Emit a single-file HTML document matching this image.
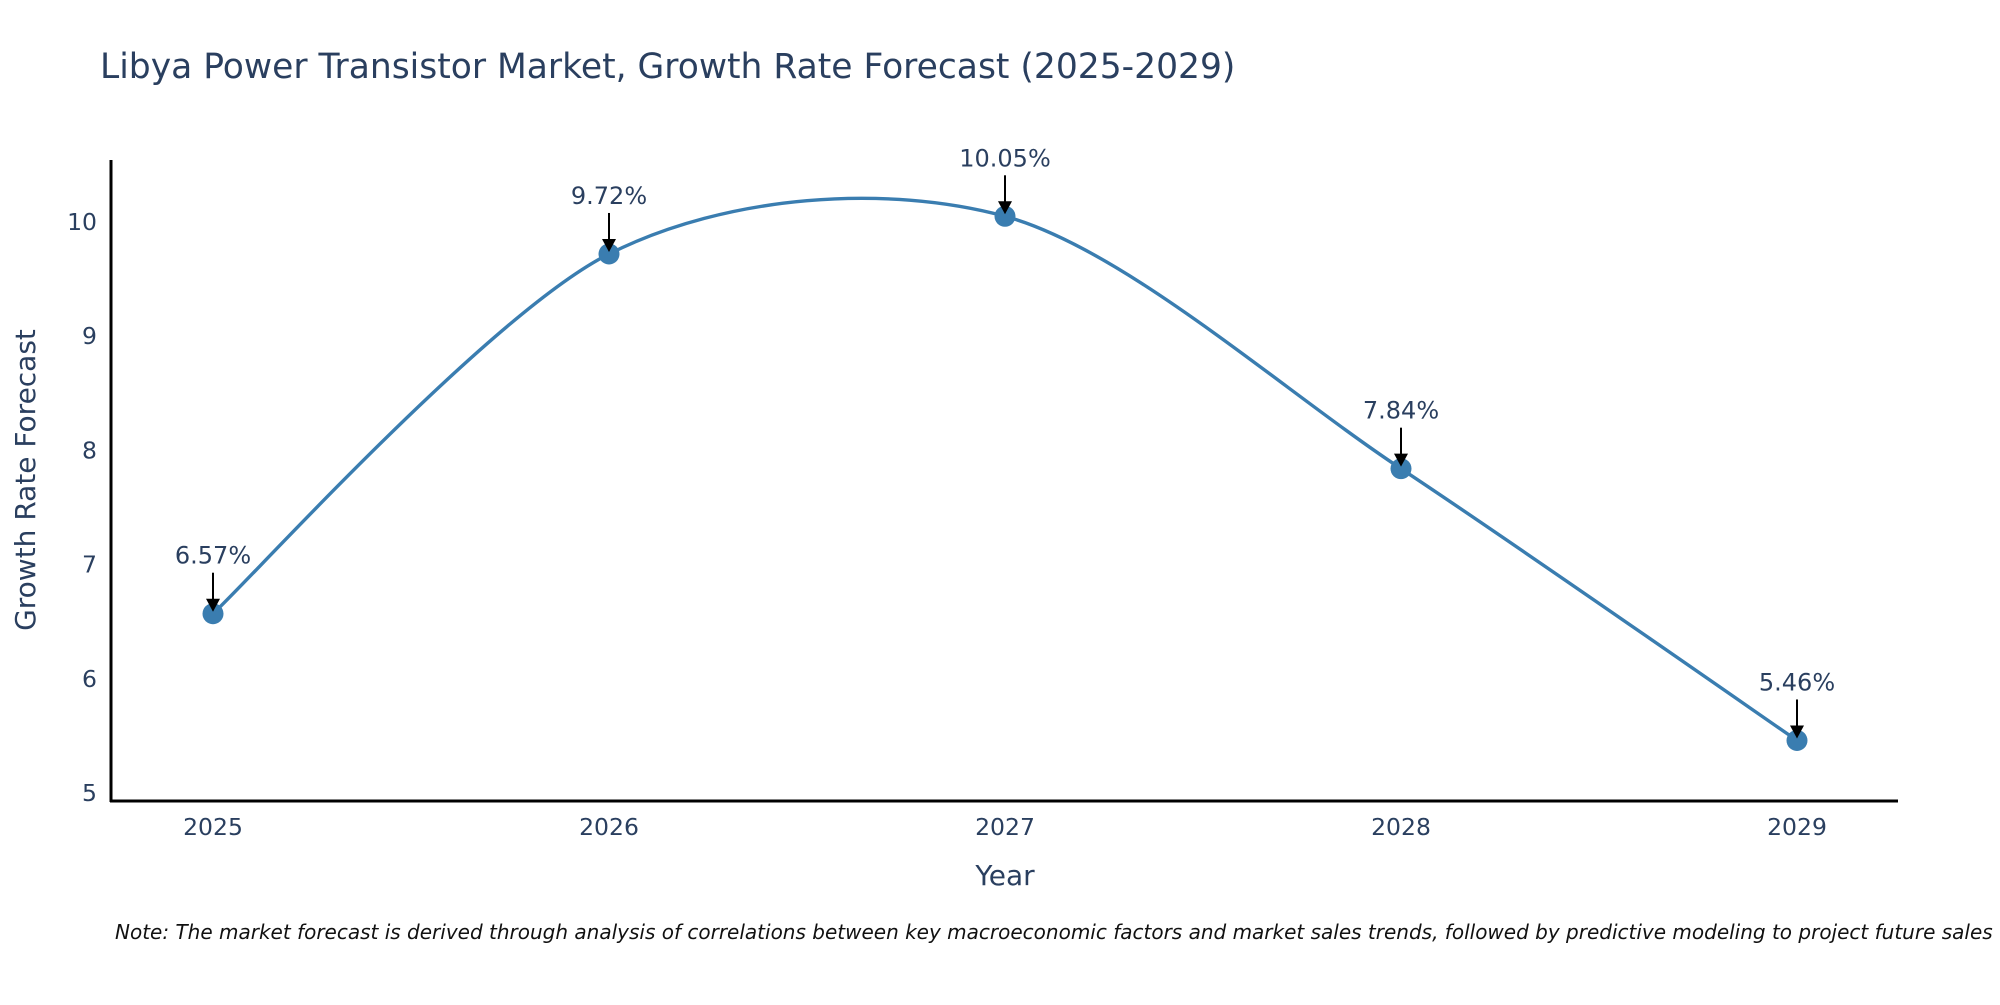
<!DOCTYPE html>
<html><head><meta charset="utf-8"><style>
html,body{margin:0;padding:0;background:#fff;}
svg text{font-family:"DejaVu Sans","Liberation Sans",sans-serif;}
</style></head><body>
<svg id="chart" width="2000" height="1000" viewBox="0 0 2000 1000" xmlns="http://www.w3.org/2000/svg">
<text x="100" y="78" font-size="34.5" fill="#2a3f5f">Libya Power Transistor Market, Growth Rate Forecast (2025-2029)</text>
<g id="yticks"></g>
<g id="xticks"></g>
<path id="line" fill="none" stroke="#3a7db0" stroke-width="3.4"/>
<g id="marks"></g>
<line x1="111" y1="160" x2="111" y2="802" stroke="#000" stroke-width="3"/>
<line x1="110" y1="801" x2="1898" y2="801" stroke="#000" stroke-width="3"/>
<text transform="translate(35,480) rotate(-90)" text-anchor="middle" font-size="28" fill="#2a3f5f">Growth Rate Forecast</text>
<text x="1005" y="885" text-anchor="middle" font-size="28" fill="#2a3f5f">Year</text>
<text x="115" y="939" font-size="20" font-style="italic" fill="#111">Note: The market forecast is derived through analysis of correlations between key macroeconomic factors and market sales trends, followed by predictive modeling to project future sales</text>
</svg>
<script>
const years = [2025, 2026, 2027, 2028, 2029];
const rates = [6.57, 9.72, 10.05, 7.84, 5.46];
const yTicks = [5, 6, 7, 8, 9, 10];
const ns = 'http://www.w3.org/2000/svg';
function xs(v){ return 213 + (v - 2025) * 396; }
function ys(v){ return 793 - (v - 5) * 114.2; }
function mk(tag, attrs, parent){ const e=document.createElementNS(ns,tag); for(const k in attrs) e.setAttribute(k, attrs[k]); parent.appendChild(e); return e; }
const yt=document.getElementById('yticks');
yTicks.forEach(t=>{
  const e=mk('text',{x:97,y:ys(t)+8,'text-anchor':'end','font-size':23.5,fill:'#2a3f5f'},yt);
  
  
  e.textContent=t;
});
const xt=document.getElementById('xticks');
years.forEach(t=>{
  const e=mk('text',{x:xs(t),y:835,'text-anchor':'middle','font-size':23.5,fill:'#2a3f5f'},xt);
  
  
  e.textContent=t;
});
const P=years.map((y,i)=>[xs(y),ys(rates[i])]);
let d='M'+P[0][0]+','+P[0][1];
const tens=0.45;
for(let i=0;i<P.length-1;i++){
  const p0=P[Math.max(0,i-1)],p1=P[i],p2=P[i+1],p3=P[Math.min(P.length-1,i+2)];
  const f1=(i===0?0.6:1), f2=(i===P.length-2?0.6:1);
  const c1=[p1[0]+(p2[0]-p0[0])*tens/3*f1, p1[1]+(p2[1]-p0[1])*tens/3*f1];
  const c2=[p2[0]-(p3[0]-p1[0])*tens/3*f2, p2[1]-(p3[1]-p1[1])*tens/3*f2];
  d+=' C'+c1[0]+','+c1[1]+' '+c2[0]+','+c2[1]+' '+p2[0]+','+p2[1];
}
document.getElementById('line').setAttribute('d',d);
const g=document.getElementById('marks');
P.forEach((p,i)=>{
  const c=mk('circle',{cx:p[0],cy:p[1],r:10.5,fill:'#3a7db0'},g);
  
  
  const l=mk('line',{x1:p[0],y1:p[1]-41,x2:p[0],y2:p[1]-14,stroke:'#000','stroke-width':2},g);
  
  
  const a=mk('path',{d:`M${p[0]-7},${p[1]-15} L${p[0]+7},${p[1]-15} L${p[0]},${p[1]-2} Z`,fill:'#000'},g);
  
  
  const t=mk('text',{x:p[0],y:p[1]-50,'text-anchor':'middle','font-size':24,fill:'#2a3f5f'},g);
  
  
  t.textContent=rates[i].toFixed(2)+'%';
});
</script>
</body></html>
